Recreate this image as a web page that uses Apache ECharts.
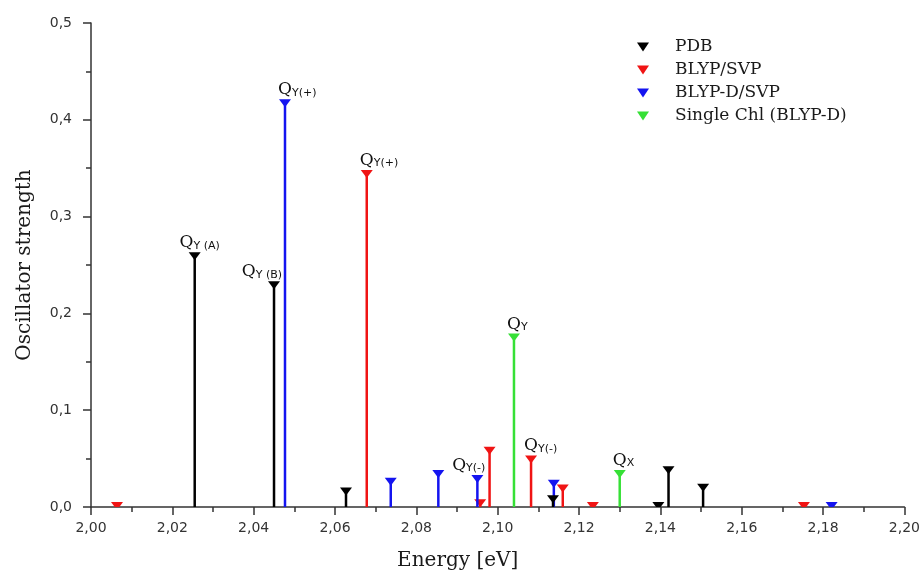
<!DOCTYPE html>
<html lang="en">
<head>
    <meta charset="UTF-8">
    <title>Oscillator strength</title>
    <script src="https://cdn.jsdelivr.net/npm/echarts@6/dist/echarts.min.js"></script>
    <style>
        html, body { margin: 0; padding: 0; background: #fff; }
    </style>
</head>
<body>
    <div id="main" style="width: 923px;height:578px;"></div>
    <script>
        // energies [eV] and oscillator strengths
        const pdbE = [2.0255, 2.0450, 2.0627, 2.1136, 2.1395, 2.1420, 2.1505];
        const pdbF = [0.259, 0.229, 0.016, 0.008, 0.001, 0.038, 0.020];
        const pdbSub = ['Y (A)', 'Y (B)', '', '', '', '', ''];
        const pdbSide = ['c', 'l', '', '', '', '', ''];

        const svpE = [2.0064, 2.0678, 2.0957, 2.0980, 2.1082, 2.1160, 2.1234, 2.1753];
        const svpF = [0.001, 0.344, 0.004, 0.058, 0.049, 0.019, 0.001, 0.001];
        const svpSub = ['', 'Y(+)', '', '', 'Y(-)', '', '', ''];
        const svpSide = ['', 'r', '', '', 'r', '', '', ''];

        const dE = [2.0477, 2.0737, 2.0854, 2.0950, 2.1138, 2.1821];
        const dF = [0.417, 0.026, 0.034, 0.029, 0.024, 0.001];
        const dSub = ['Y(+)', '', '', 'Y(-)', '', ''];
        const dSide = ['r', '', '', 'l', '', ''];

        const chlE = [2.1040, 2.1300];
        const chlF = [0.175, 0.034];
        const chlSub = ['Y', 'X'];
        const chlSide = ['r', 'r'];

        const serif = 'DejaVu Serif';

        function stickSeries(name, color, xs, ys, subs, sides, z) {
            return {
                name: name,
                type: 'custom',
                clip: true,
                z: z,
                itemStyle: { color: color },
                data: xs.map((x, i) => [x, ys[i]]),
                renderItem: function (params, api) {
                    const i = params.dataIndex;
                    const base = api.coord([api.value(0), 0]);
                    const top = api.coord([api.value(0), api.value(1)]);
                    const cx = top[0], ty = top[1];
                    // down-pointing triangle centred on the value, cut off at the axis
                    let tri = [[cx - 6, ty - 4], [cx + 6, ty - 4], [cx, ty + 4]];
                    if (ty + 4 > base[1]) {
                        const w = 6 * (ty + 4 - base[1]) / 8;
                        tri = [[cx - 6, ty - 4], [cx + 6, ty - 4], [cx + w, base[1]], [cx - w, base[1]]];
                    }
                    const children = [
                        {
                            type: 'line',
                            shape: { x1: cx, y1: ty, x2: base[0], y2: base[1] },
                            style: { stroke: color, lineWidth: 2.5 }
                        },
                        {
                            type: 'polygon',
                            shape: { points: tri },
                            style: { fill: color }
                        }
                    ];
                    if (subs[i]) {
                        let lx = cx - 7, align = 'left';
                        if (sides[i] === 'l') { lx = cx + 8; align = 'right'; }
                        if (sides[i] === 'c') { lx = cx + 5; align = 'center'; }
                        children.push({
                            type: 'text',
                            x: lx,
                            y: ty - 5,
                            style: {
                                text: '{q|Q}{s|' + subs[i] + '}',
                                align: align,
                                verticalAlign: 'bottom',
                                fill: '#111',
                                rich: {
                                    q: { fontFamily: serif, fontSize: 17, lineHeight: 17, verticalAlign: 'top', fill: '#111' },
                                    s: { fontFamily: 'DejaVu Sans', fontSize: 11, lineHeight: 11, verticalAlign: 'bottom', padding: [12, 0, 0, 0], fill: '#111' }
                                }
                            }
                        });
                    }
                    return { type: 'group', children: children };
                }
            };
        }

        const axisLine = { show: true, lineStyle: { color: '#333', width: 1.5 } };

        let myChart = echarts.init(document.getElementById('main'));
        let option = {
            animation: false,
            grid: { left: 91, right: 15, top: 23, bottom: 71 },
            legend: {
                orient: 'vertical',
                left: 632,
                top: 33,
                icon: 'path://M0,0L12,0L6,9Z',
                itemWidth: 12,
                itemHeight: 9,
                itemGap: 5,
                textStyle: { fontFamily: serif, fontSize: 17, lineHeight: 18, color: '#1a1a1a', padding: [0, 0, 0, 21] },
                data: ['PDB', 'BLYP/SVP', 'BLYP-D/SVP', 'Single Chl (BLYP-D)']
            },
            xAxis: {
                type: 'value',
                min: 2.0,
                max: 2.2,
                interval: 0.02,
                name: 'Energy [eV]',
                nameLocation: 'middle',
                nameGap: 44,
                nameTextStyle: { fontFamily: serif, fontSize: 20, color: '#1a1a1a', padding: [0, 80, 0, 0] },
                axisLine: axisLine,
                axisTick: { length: 8, lineStyle: { color: '#333', width: 1.5 } },
                minorTick: { show: true, splitNumber: 2, length: 5, lineStyle: { color: '#333', width: 1.5 } },
                splitLine: { show: false },
                axisLabel: {
                    margin: 14,
                    fontFamily: 'DejaVu Sans',
                    fontSize: 14,
                    color: '#333',
                    formatter: v => v.toFixed(2).replace('.', ',')
                }
            },
            yAxis: {
                type: 'value',
                min: 0,
                max: 0.5,
                interval: 0.1,
                name: 'Oscillator strength',
                nameLocation: 'middle',
                nameRotate: 90,
                nameGap: 56,
                nameTextStyle: { fontFamily: serif, fontSize: 20, color: '#1a1a1a' },
                axisLine: axisLine,
                axisTick: { length: 8, lineStyle: { color: '#333', width: 1.5 } },
                minorTick: { show: true, splitNumber: 2, length: 5, lineStyle: { color: '#333', width: 1.5 } },
                splitLine: { show: false },
                axisLabel: {
                    margin: 19,
                    fontFamily: 'DejaVu Sans',
                    fontSize: 14,
                    color: '#333',
                    formatter: v => v.toFixed(1).replace('.', ',')
                }
            },
            series: [
                stickSeries('PDB', '#000000', pdbE, pdbF, pdbSub, pdbSide, 5),
                stickSeries('BLYP/SVP', '#f01414', svpE, svpF, svpSub, svpSide, 3),
                stickSeries('BLYP-D/SVP', '#1414f0', dE, dF, dSub, dSide, 4),
                stickSeries('Single Chl (BLYP-D)', '#36e036', chlE, chlF, chlSub, chlSide, 3)
            ]
        };
        myChart.setOption(option);
    </script>
</body>
</html>
